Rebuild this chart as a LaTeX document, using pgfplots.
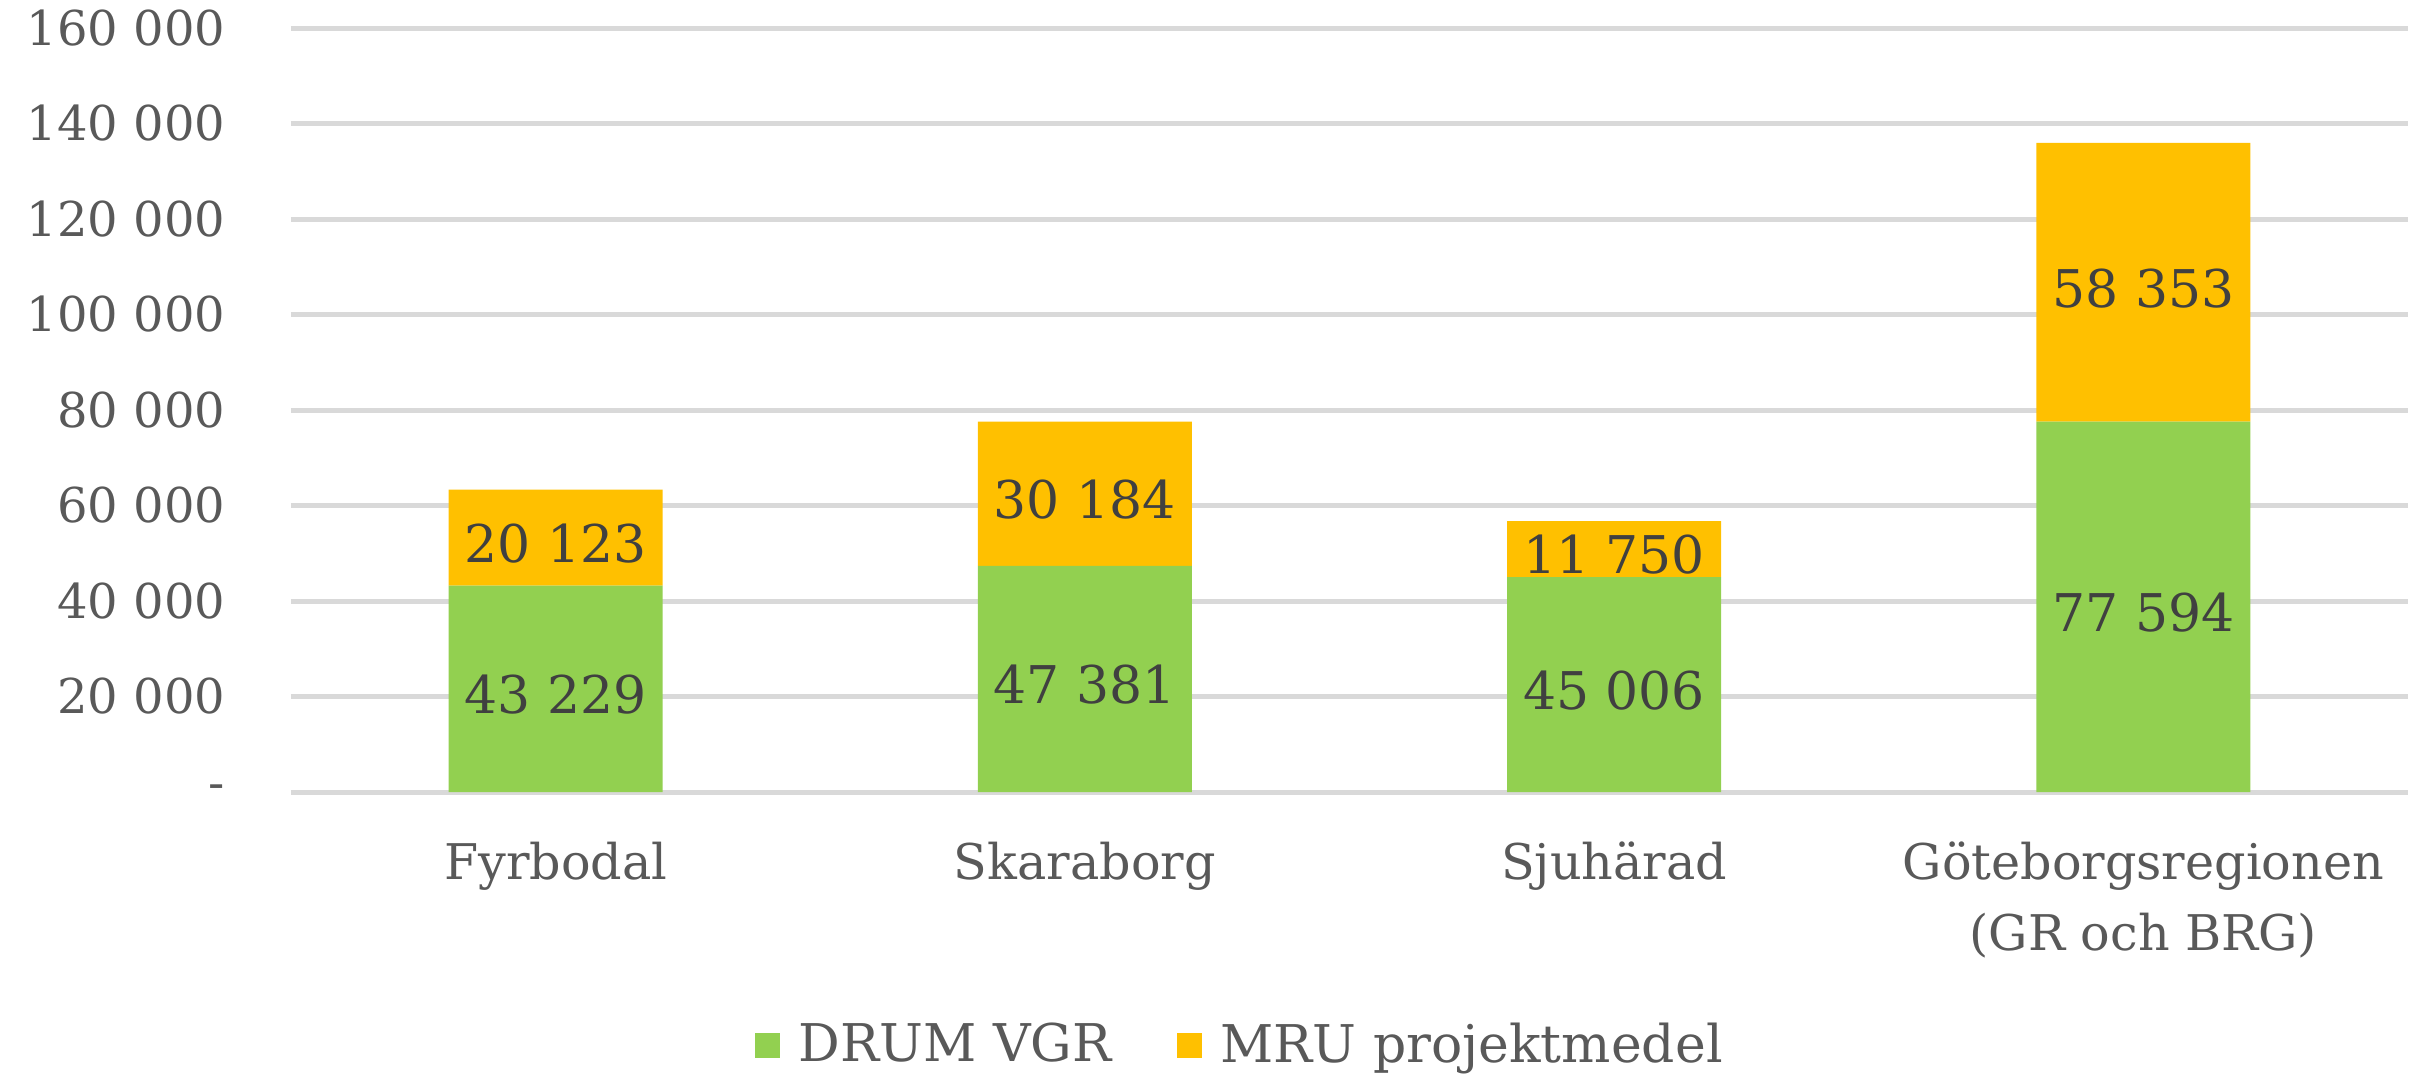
\documentclass[border=0pt]{standalone}
\usepackage{fontspec}
\setmainfont{DejaVu Serif}
\usepackage{pgfplots}
\pgfplotsset{compat=1.18}
\definecolor{cgreen}{HTML}{92D050}
\definecolor{corange}{HTML}{FFC000}
\definecolor{cgrid}{HTML}{D9D9D9}
\definecolor{ctext}{HTML}{595959}
\definecolor{clab}{HTML}{404040}
\begin{document}
\begin{tikzpicture}
\begin{axis}[
  at={(0,0)}, anchor=south west,
  scale only axis, width=529.25pt, height=191pt,
  ybar stacked, bar width=53.5pt,
  xmin=-0.5, xmax=3.5, ymin=0, ymax=160000,
  scaled y ticks=false,
  axis line style={draw=none},
  tick style={draw=none}, major tick length=0pt,
  ymajorgrids, grid style={cgrid, line width=1.25pt},
  ytick={0,20000,40000,60000,80000,100000,120000,140000,160000},
  yticklabels={-,20 000,40 000,60 000,80 000,100 000,120 000,140 000,160 000},
  xtick={0,1,2,3},
  xticklabels={Fyrbodal,Skaraborg,Sjuhärad,Göteborgsregionen\\(GR och BRG)},
  yticklabel style={anchor=east, inner sep=0pt, xshift=-16.25pt, font=\fontsize{12}{14}\selectfont, text=ctext},
  xticklabel style={anchor=north, inner sep=0pt, yshift=-12.2pt, align=center, font=\fontsize{12.3}{17.8}\selectfont, text=ctext},
  legend style={at={(0.4496,-0.332)}, anchor=center, draw=none, fill=none,
    legend columns=2, font=\fontsize{13}{15}\selectfont, text=ctext,
    /tikz/every even column/.append style={column sep=14.3pt}},
  legend image code/.code={\fill[#1] (0pt,-3.1pt) rectangle (6.25pt,3.1pt); \path (8.95pt,0pt);},
  legend cell align=left,
]
\addplot[fill=cgreen, draw=none] coordinates {(0,43229) (1,47381) (2,45006) (3,77594)};
\addlegendentry{DRUM VGR}
\addplot[fill=corange, draw=none] coordinates {(0,20123) (1,30184) (2,11750) (3,58353)};
\addlegendentry{MRU projektmedel}
\end{axis}
\begin{axis}[
  at={(0,0)}, anchor=south west,
  scale only axis, width=529.25pt, height=191pt,
  xmin=-0.5, xmax=3.5, ymin=0, ymax=160000,
  hide axis, clip=false,
]
\addplot[draw=none, mark=none, nodes near coords, point meta=explicit symbolic,
  every node near coord/.style={anchor=center, inner sep=0pt, yshift=-1.5pt, font=\fontsize{13}{15}\selectfont, text=clab}]
  coordinates {(0,21614.5) [43 229] (1,23690.5) [47 381] (2,22503) [45 006] (3,38797) [77 594]
               (0,53290.5) [20 123] (1,62473) [30 184] (2,50881) [11 750] (3,106770.5) [58 353]};
\end{axis}
\pgfresetboundingbox
\useasboundingbox (-72.75pt,-71pt) rectangle (534pt,198pt);
\end{tikzpicture}
\end{document}
